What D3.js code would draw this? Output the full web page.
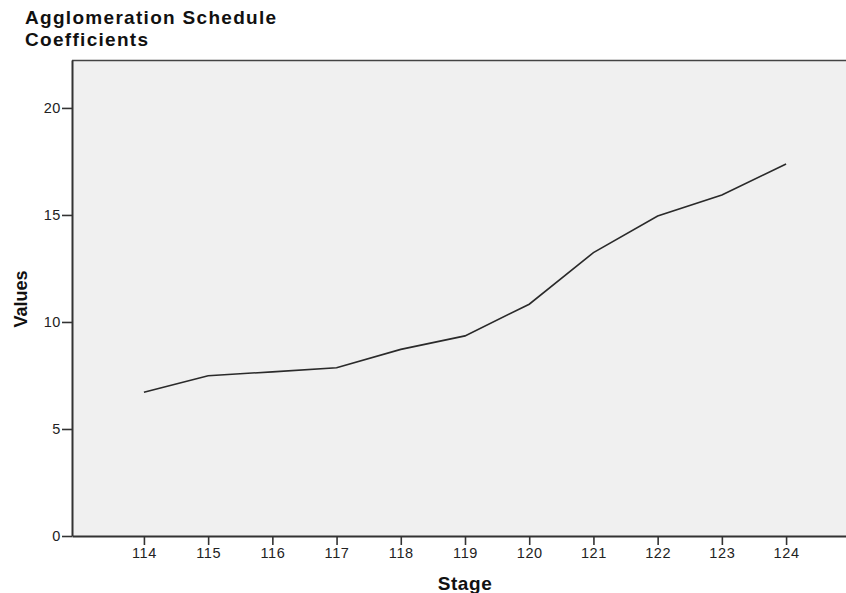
<!DOCTYPE html>
<html>
<head>
<meta charset="utf-8">
<script src="https://cdn.jsdelivr.net/npm/d3@7/dist/d3.min.js"></script>
<style>
  html, body { margin: 0; padding: 0; background: #ffffff; }
  svg { display: block; font-family: "Liberation Sans", Arial, sans-serif; }
</style>
</head>
<body>
<svg id="chart" width="846" height="593"></svg>
<script>
// ---- data ----
const stages = [114, 115, 116, 117, 118, 119, 120, 121, 122, 123, 124];
const coefficients = [6.72, 7.49, 7.67, 7.86, 8.72, 9.35, 10.83, 13.24, 14.95, 15.93, 17.38];
const yTickValues = [0, 5, 10, 15, 20];
const titleLines = ["Agglomeration Schedule", "Coefficients"];
const xLabel = "Stage";
const yLabel = "Values";

const svg = d3.select("#chart");

const plot = { left: 72, top: 60, right: 858, bottom: 536 };

const x = d3.scaleLinear().domain([112.88, 125.12]).range([plot.left, plot.right]);
const y = d3.scaleLinear().domain([0, 22.24]).range([plot.bottom, plot.top]);

// plot background
svg.append("rect")
  .attr("x", plot.left).attr("y", plot.top)
  .attr("width", plot.right - plot.left).attr("height", plot.bottom - plot.top)
  .attr("fill", "#f0f0f0");

// top frame line
svg.append("line")
  .attr("x1", plot.left).attr("x2", plot.right)
  .attr("y1", plot.top + 0.5).attr("y2", plot.top + 0.5)
  .attr("stroke", "#444").attr("stroke-width", 1.6);

// y axis
const yAxis = svg.append("g")
  .attr("transform", `translate(${plot.left},0)`)
  .call(d3.axisLeft(y).tickValues(yTickValues).tickSize(10).tickPadding(1).tickSizeOuter(0));
// x axis
const xAxis = svg.append("g")
  .attr("transform", `translate(0,${plot.bottom})`)
  .call(d3.axisBottom(x).tickValues(stages).tickFormat(d3.format("d")).tickSize(9).tickPadding(3).tickSizeOuter(0));

[yAxis, xAxis].forEach(g => {
  g.select(".domain").attr("stroke", "#333").attr("stroke-width", 2);
  g.selectAll(".tick line").attr("stroke", "#333").attr("stroke-width", 1.6);
  g.selectAll(".tick text")
    .attr("fill", "#222")
    .style("font-family", '"Liberation Sans", Arial, sans-serif')
    .style("font-size", "14.5px")
    .style("letter-spacing", "0.6px");
});

// line
const line = d3.line()
  .x((d, i) => x(stages[i]))
  .y(d => y(d));
svg.append("path")
  .datum(coefficients)
  .attr("d", line)
  .attr("fill", "none")
  .attr("stroke", "#2a2a2a")
  .attr("stroke-width", 1.6);

// titles
svg.append("g").selectAll("text")
  .data(titleLines)
  .join("text")
  .attr("x", 25)
  .attr("y", (d, i) => 24 + i * 22)
  .attr("font-weight", "bold")
  .attr("font-size", "19px")
  .attr("letter-spacing", "1.3px")
  .attr("fill", "#111")
  .text(d => d);

svg.append("text")
  .attr("x", x(119))
  .attr("y", 590)
  .attr("text-anchor", "middle")
  .attr("font-weight", "bold")
  .attr("font-size", "19px")
  .attr("letter-spacing", "0.6px")
  .attr("fill", "#111")
  .text(xLabel);

svg.append("text")
  .attr("transform", `translate(26.5,299) rotate(-90)`)
  .attr("text-anchor", "middle")
  .attr("font-weight", "bold")
  .attr("font-size", "18px")
  .attr("fill", "#111")
  .text(yLabel);
</script>
</body>
</html>
